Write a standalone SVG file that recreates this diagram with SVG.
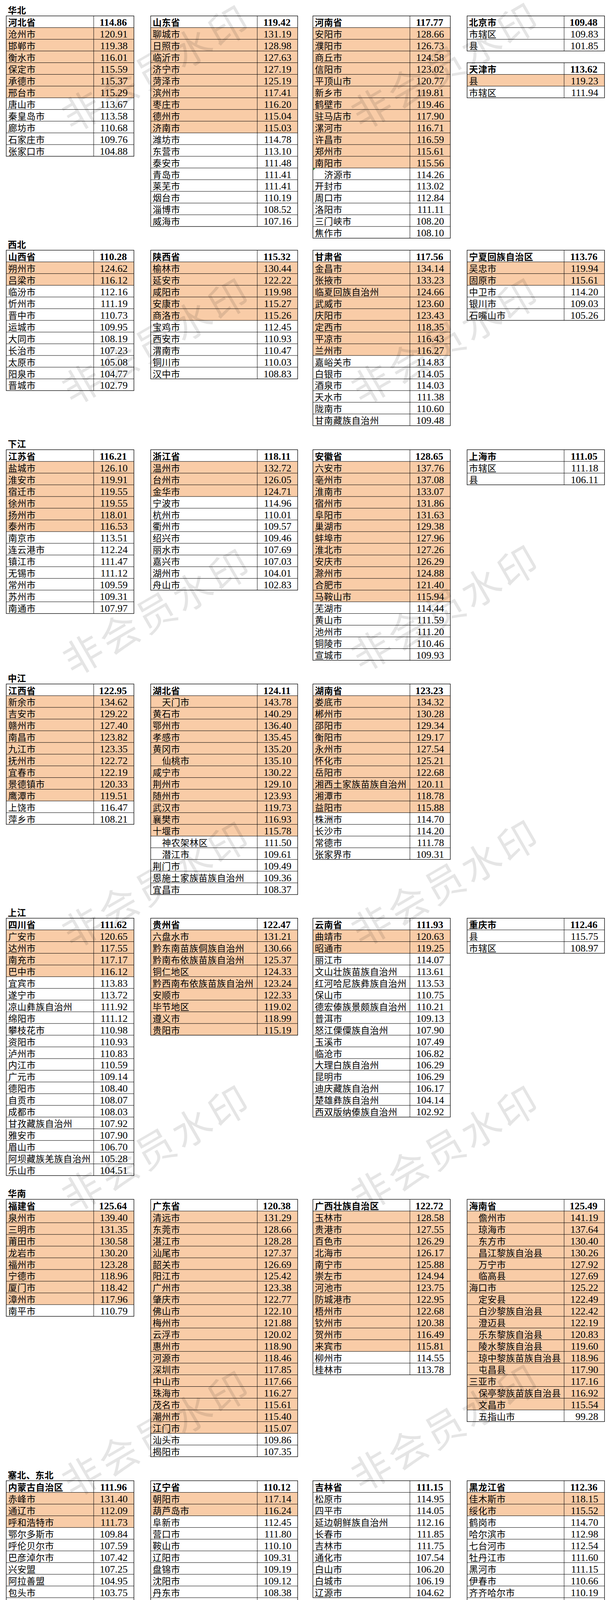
<svg xmlns="http://www.w3.org/2000/svg" width="1560" height="4886" viewBox="0 0 1560 4886">
<style>
.bg{fill:#fff}
.o{fill:#F9CCA7}
.g{fill:none;stroke:#000;stroke-width:1}
.b{fill:none;stroke:#000;stroke-width:1.3}
.nm{font-family:"Noto Sans CJK SC","Noto Sans CJK JP",sans-serif;font-size:23px;letter-spacing:.5px;fill:#000}
.vl{font-family:"Liberation Serif",serif;font-size:26px;fill:#000;text-anchor:end}
.h{font-weight:700}
.sec{font-family:"Noto Sans CJK SC","Noto Sans CJK JP",sans-serif;font-size:23px;letter-spacing:.5px;font-weight:700;fill:#000}
.wm{font-family:"Noto Sans CJK SC","Noto Sans CJK JP",sans-serif;font-size:100px;fill:#000;fill-opacity:.1;text-anchor:middle;letter-spacing:8px}
.cr{font-family:"Noto Sans CJK SC","Noto Sans CJK JP",sans-serif;font-size:46px;font-weight:700;fill:#cfcfcf;stroke:#b8b8b8;stroke-width:.6;text-anchor:end}
</style>
<rect class="bg" width="1560" height="4886"/>

<g id="sections">
<text class="sec" x="20" y="34.7">华北</text>
<text class="sec" x="20" y="634.5">西北</text>
<text class="sec" x="20" y="1145.3">下江</text>
<text class="sec" x="20" y="1745">中江</text>
<text class="sec" x="20" y="2344.6">上江</text>
<text class="sec" x="20" y="3064.3">华南</text>
<text class="sec" x="20" y="3784.6">塞北、东北</text>
<text class="sec" x="20" y="4294.6">西部</text>
</g>

<g id="tables">

<g id="hebei" transform="translate(16,40.7)">
<rect class="o" y="29.95" width="327" height="179.7"/>
<path class="g" d="M224 0V359.4M0 29.95h327m-327 29.95h327m-327 29.95h327m-327 29.95h327m-327 29.95h327m-327 29.95h327m-327 29.95h327m-327 29.95h327m-327 29.95h327m-327 29.95h327m-327 29.95h327"/>
<rect class="b" width="327" height="359.4"/>
<g class="nm" transform="translate(5,0)">
<text class="h" y="25.5">河北省</text><text y="55.45">沧州市</text><text y="85.4">邯郸市</text><text y="115.35">衡水市</text><text y="145.3">保定市</text><text y="175.25">承德市</text><text y="205.2">邢台市</text><text y="235.15">唐山市</text><text y="265.1">秦皇岛市</text><text y="295.05">廊坊市</text><text y="325">石家庄市</text><text y="354.95">张家口市</text>
</g>
<g class="vl" transform="translate(311,0)">
<text class="h" x="-2" y="25.5">114.86</text><text y="55.45">120.91</text><text y="85.4">119.38</text><text y="115.35">116.01</text><text y="145.3">115.59</text><text y="175.25">115.37</text><text y="205.2">115.29</text><text y="235.15">113.67</text><text y="265.1">113.58</text><text y="295.05">110.68</text><text y="325">109.76</text><text y="354.95">104.88</text>
</g>
</g>

<g id="shandong" transform="translate(386,40.7)">
<rect class="o" y="29.95" width="376.5" height="269.55"/>
<path class="g" d="M273 0V539.1M0 29.95h376.5m-376.5 29.95h376.5m-376.5 29.95h376.5m-376.5 29.95h376.5m-376.5 29.95h376.5m-376.5 29.95h376.5m-376.5 29.95h376.5m-376.5 29.95h376.5m-376.5 29.95h376.5m-376.5 29.95h376.5m-376.5 29.95h376.5m-376.5 29.95h376.5m-376.5 29.95h376.5m-376.5 29.95h376.5m-376.5 29.95h376.5m-376.5 29.95h376.5m-376.5 29.95h376.5"/>
<rect class="b" width="376.5" height="539.1"/>
<g class="nm" transform="translate(5,0)">
<text class="h" y="25.5">山东省</text><text y="55.45">聊城市</text><text y="85.4">日照市</text><text y="115.35">临沂市</text><text y="145.3">济宁市</text><text y="175.25">菏泽市</text><text y="205.2">滨州市</text><text y="235.15">枣庄市</text><text y="265.1">德州市</text><text y="295.05">济南市</text><text y="325">潍坊市</text><text y="354.95">东营市</text><text y="384.9">泰安市</text><text y="414.85">青岛市</text><text y="444.8">莱芜市</text><text y="474.75">烟台市</text><text y="504.7">淄博市</text><text y="534.65">威海市</text>
</g>
<g class="vl" transform="translate(360.5,0)">
<text class="h" x="-2" y="25.5">119.42</text><text y="55.45">131.19</text><text y="85.4">128.98</text><text y="115.35">127.63</text><text y="145.3">127.19</text><text y="175.25">125.19</text><text y="205.2">117.41</text><text y="235.15">116.20</text><text y="265.1">115.04</text><text y="295.05">115.03</text><text y="325">114.78</text><text y="354.95">113.10</text><text y="384.9">111.48</text><text y="414.85">111.41</text><text y="444.8">111.41</text><text y="474.75">110.19</text><text y="504.7">108.52</text><text y="534.65">107.16</text>
</g>
</g>

<g id="henan" transform="translate(801.5,40.7)">
<rect class="o" y="29.95" width="352" height="359.4"/>
<path class="g" d="M248.5 0V569.05M0 29.95h352m-352 29.95h352m-352 29.95h352m-352 29.95h352m-352 29.95h352m-352 29.95h352m-352 29.95h352m-352 29.95h352m-352 29.95h352m-352 29.95h352m-352 29.95h352m-352 29.95h352m-352 29.95h352m-352 29.95h352m-352 29.95h352m-352 29.95h352m-352 29.95h352m-352 29.95h352"/>
<rect class="b" width="352" height="569.05"/>
<polygon points="1,390.4 6,390.4 1,395.4" fill="#1a8f1a"/>
<g class="nm" transform="translate(5,0)">
<text class="h" y="25.5">河南省</text><text y="55.45">安阳市</text><text y="85.4">濮阳市</text><text y="115.35">商丘市</text><text y="145.3">信阳市</text><text y="175.25">平顶山市</text><text y="205.2">新乡市</text><text y="235.15">鹤壁市</text><text y="265.1">驻马店市</text><text y="295.05">漯河市</text><text y="325">许昌市</text><text y="354.95">郑州市</text><text y="384.9">南阳市</text><text x="24" y="414.85">济源市</text><text y="444.8">开封市</text><text y="474.75">周口市</text><text y="504.7">洛阳市</text><text y="534.65">三门峡市</text><text y="564.6">焦作市</text>
</g>
<g class="vl" transform="translate(336,0)">
<text class="h" x="-2" y="25.5">117.77</text><text y="55.45">128.66</text><text y="85.4">126.73</text><text y="115.35">124.58</text><text y="145.3">123.02</text><text y="175.25">120.77</text><text y="205.2">119.81</text><text y="235.15">119.46</text><text y="265.1">117.90</text><text y="295.05">116.71</text><text y="325">116.59</text><text y="354.95">115.61</text><text y="384.9">115.56</text><text y="414.85">114.26</text><text y="444.8">113.02</text><text y="474.75">112.84</text><text y="504.7">111.11</text><text y="534.65">108.20</text><text y="564.6">108.10</text>
</g>
</g>

<g id="beijing" transform="translate(1196.5,40.7)">
<path class="g" d="M248.5 0V89.85M0 29.95h352m-352 29.95h352"/>
<rect class="b" width="352" height="89.85"/>
<g class="nm" transform="translate(5,0)">
<text class="h" y="25.5">北京市</text><text y="55.45">市辖区</text><text y="85.4">县</text>
</g>
<g class="vl" transform="translate(336,0)">
<text class="h" x="-2" y="25.5">109.48</text><text y="55.45">109.83</text><text y="85.4">101.85</text>
</g>
</g>

<g id="tianjin" transform="translate(1196.5,160.6)">
<rect class="o" y="29.95" width="352" height="29.95"/>
<path class="g" d="M248.5 0V89.85M0 29.95h352m-352 29.95h352"/>
<rect class="b" width="352" height="89.85"/>
<g class="nm" transform="translate(5,0)">
<text class="h" y="25.5">天津市</text><text y="55.45">县</text><text y="85.4">市辖区</text>
</g>
<g class="vl" transform="translate(336,0)">
<text class="h" x="-2" y="25.5">113.62</text><text y="55.45">119.23</text><text y="85.4">111.94</text>
</g>
</g>

<g id="shanxi" transform="translate(16,640.5)">
<rect class="o" y="29.95" width="327" height="59.9"/>
<path class="g" d="M224 0V359.4M0 29.95h327m-327 29.95h327m-327 29.95h327m-327 29.95h327m-327 29.95h327m-327 29.95h327m-327 29.95h327m-327 29.95h327m-327 29.95h327m-327 29.95h327m-327 29.95h327"/>
<rect class="b" width="327" height="359.4"/>
<g class="nm" transform="translate(5,0)">
<text class="h" y="25.5">山西省</text><text y="55.45">朔州市</text><text y="85.4">吕梁市</text><text y="115.35">临汾市</text><text y="145.3">忻州市</text><text y="175.25">晋中市</text><text y="205.2">运城市</text><text y="235.15">大同市</text><text y="265.1">长治市</text><text y="295.05">太原市</text><text y="325">阳泉市</text><text y="354.95">晋城市</text>
</g>
<g class="vl" transform="translate(311,0)">
<text class="h" x="-2" y="25.5">110.28</text><text y="55.45">124.62</text><text y="85.4">116.12</text><text y="115.35">112.16</text><text y="145.3">111.19</text><text y="175.25">110.73</text><text y="205.2">109.95</text><text y="235.15">108.19</text><text y="265.1">107.23</text><text y="295.05">105.08</text><text y="325">104.77</text><text y="354.95">102.79</text>
</g>
</g>

<g id="shaanxi" transform="translate(386,640.5)">
<rect class="o" y="29.95" width="376.5" height="149.75"/>
<path class="g" d="M273 0V329.45M0 29.95h376.5m-376.5 29.95h376.5m-376.5 29.95h376.5m-376.5 29.95h376.5m-376.5 29.95h376.5m-376.5 29.95h376.5m-376.5 29.95h376.5m-376.5 29.95h376.5m-376.5 29.95h376.5m-376.5 29.95h376.5"/>
<rect class="b" width="376.5" height="329.45"/>
<g class="nm" transform="translate(5,0)">
<text class="h" y="25.5">陕西省</text><text y="55.45">榆林市</text><text y="85.4">延安市</text><text y="115.35">咸阳市</text><text y="145.3">安康市</text><text y="175.25">商洛市</text><text y="205.2">宝鸡市</text><text y="235.15">西安市</text><text y="265.1">渭南市</text><text y="295.05">铜川市</text><text y="325">汉中市</text>
</g>
<g class="vl" transform="translate(360.5,0)">
<text class="h" x="-2" y="25.5">115.32</text><text y="55.45">130.44</text><text y="85.4">122.22</text><text y="115.35">119.98</text><text y="145.3">115.27</text><text y="175.25">115.26</text><text y="205.2">112.45</text><text y="235.15">110.93</text><text y="265.1">110.47</text><text y="295.05">110.03</text><text y="325">108.83</text>
</g>
</g>

<g id="gansu" transform="translate(801.5,640.5)">
<rect class="o" y="29.95" width="352" height="239.6"/>
<path class="g" d="M248.5 0V449.25M0 29.95h352m-352 29.95h352m-352 29.95h352m-352 29.95h352m-352 29.95h352m-352 29.95h352m-352 29.95h352m-352 29.95h352m-352 29.95h352m-352 29.95h352m-352 29.95h352m-352 29.95h352m-352 29.95h352m-352 29.95h352"/>
<rect class="b" width="352" height="449.25"/>
<g class="nm" transform="translate(5,0)">
<text class="h" y="25.5">甘肃省</text><text y="55.45">金昌市</text><text y="85.4">张掖市</text><text y="115.35">临夏回族自治州</text><text y="145.3">武威市</text><text y="175.25">庆阳市</text><text y="205.2">定西市</text><text y="235.15">平凉市</text><text y="265.1">兰州市</text><text y="295.05">嘉峪关市</text><text y="325">白银市</text><text y="354.95">酒泉市</text><text y="384.9">天水市</text><text y="414.85">陇南市</text><text y="444.8">甘南藏族自治州</text>
</g>
<g class="vl" transform="translate(336,0)">
<text class="h" x="-2" y="25.5">117.56</text><text y="55.45">134.14</text><text y="85.4">133.23</text><text y="115.35">124.66</text><text y="145.3">123.60</text><text y="175.25">123.43</text><text y="205.2">118.35</text><text y="235.15">116.43</text><text y="265.1">116.27</text><text y="295.05">114.83</text><text y="325">114.05</text><text y="354.95">114.03</text><text y="384.9">111.38</text><text y="414.85">110.60</text><text y="444.8">109.48</text>
</g>
</g>

<g id="ningxia" transform="translate(1196.5,640.5)">
<rect class="o" y="29.95" width="352" height="59.9"/>
<path class="g" d="M248.5 0V179.7M0 29.95h352m-352 29.95h352m-352 29.95h352m-352 29.95h352m-352 29.95h352"/>
<rect class="b" width="352" height="179.7"/>
<g class="nm" transform="translate(5,0)">
<text class="h" y="25.5">宁夏回族自治区</text><text y="55.45">吴忠市</text><text y="85.4">固原市</text><text y="115.35">中卫市</text><text y="145.3">银川市</text><text y="175.25">石嘴山市</text>
</g>
<g class="vl" transform="translate(336,0)">
<text class="h" x="-2" y="25.5">113.76</text><text y="55.45">119.94</text><text y="85.4">115.61</text><text y="115.35">114.20</text><text y="145.3">109.03</text><text y="175.25">105.26</text>
</g>
</g>

<g id="jiangsu" transform="translate(16,1151.3)">
<rect class="o" y="29.95" width="327" height="179.7"/>
<path class="g" d="M224 0V419.3M0 29.95h327m-327 29.95h327m-327 29.95h327m-327 29.95h327m-327 29.95h327m-327 29.95h327m-327 29.95h327m-327 29.95h327m-327 29.95h327m-327 29.95h327m-327 29.95h327m-327 29.95h327m-327 29.95h327"/>
<rect class="b" width="327" height="419.3"/>
<g class="nm" transform="translate(5,0)">
<text class="h" y="25.5">江苏省</text><text y="55.45">盐城市</text><text y="85.4">淮安市</text><text y="115.35">宿迁市</text><text y="145.3">徐州市</text><text y="175.25">扬州市</text><text y="205.2">泰州市</text><text y="235.15">南京市</text><text y="265.1">连云港市</text><text y="295.05">镇江市</text><text y="325">无锡市</text><text y="354.95">常州市</text><text y="384.9">苏州市</text><text y="414.85">南通市</text>
</g>
<g class="vl" transform="translate(311,0)">
<text class="h" x="-2" y="25.5">116.21</text><text y="55.45">126.10</text><text y="85.4">119.91</text><text y="115.35">119.55</text><text y="145.3">119.55</text><text y="175.25">118.01</text><text y="205.2">116.53</text><text y="235.15">113.51</text><text y="265.1">112.24</text><text y="295.05">111.47</text><text y="325">111.12</text><text y="354.95">109.59</text><text y="384.9">109.31</text><text y="414.85">107.97</text>
</g>
</g>

<g id="zhejiang" transform="translate(386,1151.3)">
<rect class="o" y="29.95" width="376.5" height="89.85"/>
<path class="g" d="M273 0V359.4M0 29.95h376.5m-376.5 29.95h376.5m-376.5 29.95h376.5m-376.5 29.95h376.5m-376.5 29.95h376.5m-376.5 29.95h376.5m-376.5 29.95h376.5m-376.5 29.95h376.5m-376.5 29.95h376.5m-376.5 29.95h376.5m-376.5 29.95h376.5"/>
<rect class="b" width="376.5" height="359.4"/>
<g class="nm" transform="translate(5,0)">
<text class="h" y="25.5">浙江省</text><text y="55.45">温州市</text><text y="85.4">台州市</text><text y="115.35">金华市</text><text y="145.3">宁波市</text><text y="175.25">杭州市</text><text y="205.2">衢州市</text><text y="235.15">绍兴市</text><text y="265.1">丽水市</text><text y="295.05">嘉兴市</text><text y="325">湖州市</text><text y="354.95">舟山市</text>
</g>
<g class="vl" transform="translate(360.5,0)">
<text class="h" x="-2" y="25.5">118.11</text><text y="55.45">132.72</text><text y="85.4">126.05</text><text y="115.35">124.71</text><text y="145.3">114.96</text><text y="175.25">110.01</text><text y="205.2">109.57</text><text y="235.15">109.46</text><text y="265.1">107.69</text><text y="295.05">107.03</text><text y="325">104.01</text><text y="354.95">102.83</text>
</g>
</g>

<g id="anhui" transform="translate(801.5,1151.3)">
<rect class="o" y="29.95" width="352" height="359.4"/>
<path class="g" d="M248.5 0V539.1M0 29.95h352m-352 29.95h352m-352 29.95h352m-352 29.95h352m-352 29.95h352m-352 29.95h352m-352 29.95h352m-352 29.95h352m-352 29.95h352m-352 29.95h352m-352 29.95h352m-352 29.95h352m-352 29.95h352m-352 29.95h352m-352 29.95h352m-352 29.95h352m-352 29.95h352"/>
<rect class="b" width="352" height="539.1"/>
<g class="nm" transform="translate(5,0)">
<text class="h" y="25.5">安徽省</text><text y="55.45">六安市</text><text y="85.4">亳州市</text><text y="115.35">淮南市</text><text y="145.3">宿州市</text><text y="175.25">阜阳市</text><text y="205.2">巢湖市</text><text y="235.15">蚌埠市</text><text y="265.1">淮北市</text><text y="295.05">安庆市</text><text y="325">滁州市</text><text y="354.95">合肥市</text><text y="384.9">马鞍山市</text><text y="414.85">芜湖市</text><text y="444.8">黄山市</text><text y="474.75">池州市</text><text y="504.7">铜陵市</text><text y="534.65">宣城市</text>
</g>
<g class="vl" transform="translate(336,0)">
<text class="h" x="-2" y="25.5">128.65</text><text y="55.45">137.76</text><text y="85.4">137.08</text><text y="115.35">133.07</text><text y="145.3">131.86</text><text y="175.25">131.63</text><text y="205.2">129.38</text><text y="235.15">127.96</text><text y="265.1">127.26</text><text y="295.05">126.29</text><text y="325">124.88</text><text y="354.95">121.40</text><text y="384.9">115.94</text><text y="414.85">114.44</text><text y="444.8">111.59</text><text y="474.75">111.20</text><text y="504.7">110.46</text><text y="534.65">109.93</text>
</g>
</g>

<g id="shanghai" transform="translate(1196.5,1151.3)">
<path class="g" d="M248.5 0V89.85M0 29.95h352m-352 29.95h352"/>
<rect class="b" width="352" height="89.85"/>
<g class="nm" transform="translate(5,0)">
<text class="h" y="25.5">上海市</text><text y="55.45">市辖区</text><text y="85.4">县</text>
</g>
<g class="vl" transform="translate(336,0)">
<text class="h" x="-2" y="25.5">111.05</text><text y="55.45">111.18</text><text y="85.4">106.11</text>
</g>
</g>

<g id="jiangxi" transform="translate(16,1751)">
<rect class="o" y="29.95" width="327" height="269.55"/>
<path class="g" d="M224 0V359.4M0 29.95h327m-327 29.95h327m-327 29.95h327m-327 29.95h327m-327 29.95h327m-327 29.95h327m-327 29.95h327m-327 29.95h327m-327 29.95h327m-327 29.95h327m-327 29.95h327"/>
<rect class="b" width="327" height="359.4"/>
<g class="nm" transform="translate(5,0)">
<text class="h" y="25.5">江西省</text><text y="55.45">新余市</text><text y="85.4">吉安市</text><text y="115.35">赣州市</text><text y="145.3">南昌市</text><text y="175.25">九江市</text><text y="205.2">抚州市</text><text y="235.15">宜春市</text><text y="265.1">景德镇市</text><text y="295.05">鹰潭市</text><text y="325">上饶市</text><text y="354.95">萍乡市</text>
</g>
<g class="vl" transform="translate(311,0)">
<text class="h" x="-2" y="25.5">122.95</text><text y="55.45">134.62</text><text y="85.4">129.22</text><text y="115.35">127.40</text><text y="145.3">123.82</text><text y="175.25">123.35</text><text y="205.2">122.72</text><text y="235.15">122.19</text><text y="265.1">120.33</text><text y="295.05">119.51</text><text y="325">116.47</text><text y="354.95">108.21</text>
</g>
</g>

<g id="hubei" transform="translate(386,1751)">
<rect class="o" y="29.95" width="376.5" height="359.4"/>
<path class="g" d="M273 0V539.1M0 29.95h376.5m-376.5 29.95h376.5m-376.5 29.95h376.5m-376.5 29.95h376.5m-376.5 29.95h376.5m-376.5 29.95h376.5m-376.5 29.95h376.5m-376.5 29.95h376.5m-376.5 29.95h376.5m-376.5 29.95h376.5m-376.5 29.95h376.5m-376.5 29.95h376.5m-376.5 29.95h376.5m-376.5 29.95h376.5m-376.5 29.95h376.5m-376.5 29.95h376.5m-376.5 29.95h376.5"/>
<rect class="b" width="376.5" height="539.1"/>
<g class="nm" transform="translate(5,0)">
<text class="h" y="25.5">湖北省</text><text x="24" y="55.45">天门市</text><text y="85.4">黄石市</text><text y="115.35">鄂州市</text><text y="145.3">孝感市</text><text y="175.25">黄冈市</text><text x="24" y="205.2">仙桃市</text><text y="235.15">咸宁市</text><text y="265.1">荆州市</text><text y="295.05">随州市</text><text y="325">武汉市</text><text y="354.95">襄樊市</text><text y="384.9">十堰市</text><text x="24" y="414.85">神农架林区</text><text x="24" y="444.8">潜江市</text><text y="474.75">荆门市</text><text y="504.7">恩施土家族苗族自治州</text><text y="534.65">宜昌市</text>
</g>
<g class="vl" transform="translate(360.5,0)">
<text class="h" x="-2" y="25.5">124.11</text><text y="55.45">143.78</text><text y="85.4">140.29</text><text y="115.35">136.40</text><text y="145.3">135.45</text><text y="175.25">135.20</text><text y="205.2">135.10</text><text y="235.15">130.22</text><text y="265.1">129.10</text><text y="295.05">123.93</text><text y="325">119.73</text><text y="354.95">116.93</text><text y="384.9">115.78</text><text y="414.85">111.50</text><text y="444.8">109.61</text><text y="474.75">109.49</text><text y="504.7">109.36</text><text y="534.65">108.37</text>
</g>
</g>

<g id="hunan" transform="translate(801.5,1751)">
<rect class="o" y="29.95" width="352" height="299.5"/>
<path class="g" d="M248.5 0V449.25M0 29.95h352m-352 29.95h352m-352 29.95h352m-352 29.95h352m-352 29.95h352m-352 29.95h352m-352 29.95h352m-352 29.95h352m-352 29.95h352m-352 29.95h352m-352 29.95h352m-352 29.95h352m-352 29.95h352m-352 29.95h352"/>
<rect class="b" width="352" height="449.25"/>
<g class="nm" transform="translate(5,0)">
<text class="h" y="25.5">湖南省</text><text y="55.45">娄底市</text><text y="85.4">郴州市</text><text y="115.35">邵阳市</text><text y="145.3">衡阳市</text><text y="175.25">永州市</text><text y="205.2">怀化市</text><text y="235.15">岳阳市</text><text y="265.1">湘西土家族苗族自治州</text><text y="295.05">湘潭市</text><text y="325">益阳市</text><text y="354.95">株洲市</text><text y="384.9">长沙市</text><text y="414.85">常德市</text><text y="444.8">张家界市</text>
</g>
<g class="vl" transform="translate(336,0)">
<text class="h" x="-2" y="25.5">123.23</text><text y="55.45">134.32</text><text y="85.4">130.28</text><text y="115.35">129.34</text><text y="145.3">129.17</text><text y="175.25">127.54</text><text y="205.2">125.21</text><text y="235.15">122.68</text><text y="265.1">120.11</text><text y="295.05">118.78</text><text y="325">115.88</text><text y="354.95">114.70</text><text y="384.9">114.20</text><text y="414.85">111.78</text><text y="444.8">109.31</text>
</g>
</g>

<g id="sichuan" transform="translate(16,2350.6)">
<rect class="o" y="29.95" width="327" height="119.8"/>
<path class="g" d="M224 0V658.9M0 29.95h327m-327 29.95h327m-327 29.95h327m-327 29.95h327m-327 29.95h327m-327 29.95h327m-327 29.95h327m-327 29.95h327m-327 29.95h327m-327 29.95h327m-327 29.95h327m-327 29.95h327m-327 29.95h327m-327 29.95h327m-327 29.95h327m-327 29.95h327m-327 29.95h327m-327 29.95h327m-327 29.95h327m-327 29.95h327m-327 29.95h327"/>
<rect class="b" width="327" height="658.9"/>
<g class="nm" transform="translate(5,0)">
<text class="h" y="25.5">四川省</text><text y="55.45">广安市</text><text y="85.4">达州市</text><text y="115.35">南充市</text><text y="145.3">巴中市</text><text y="175.25">宜宾市</text><text y="205.2">遂宁市</text><text y="235.15">凉山彝族自治州</text><text y="265.1">绵阳市</text><text y="295.05">攀枝花市</text><text y="325">资阳市</text><text y="354.95">泸州市</text><text y="384.9">内江市</text><text y="414.85">广元市</text><text y="444.8">德阳市</text><text y="474.75">自贡市</text><text y="504.7">成都市</text><text y="534.65">甘孜藏族自治州</text><text y="564.6">雅安市</text><text y="594.55">眉山市</text><text y="624.5">阿坝藏族羌族自治州</text><text y="654.45">乐山市</text>
</g>
<g class="vl" transform="translate(311,0)">
<text class="h" x="-2" y="25.5">111.62</text><text y="55.45">120.65</text><text y="85.4">117.55</text><text y="115.35">117.17</text><text y="145.3">116.12</text><text y="175.25">113.83</text><text y="205.2">113.72</text><text y="235.15">111.92</text><text y="265.1">111.12</text><text y="295.05">110.98</text><text y="325">110.93</text><text y="354.95">110.83</text><text y="384.9">110.59</text><text y="414.85">109.14</text><text y="444.8">108.40</text><text y="474.75">108.07</text><text y="504.7">108.03</text><text y="534.65">107.92</text><text y="564.6">107.90</text><text y="594.55">106.70</text><text y="624.5">105.28</text><text y="654.45">104.51</text>
</g>
</g>

<g id="guizhou" transform="translate(386,2350.6)">
<rect class="o" y="29.95" width="376.5" height="269.55"/>
<path class="g" d="M273 0V299.5M0 29.95h376.5m-376.5 29.95h376.5m-376.5 29.95h376.5m-376.5 29.95h376.5m-376.5 29.95h376.5m-376.5 29.95h376.5m-376.5 29.95h376.5m-376.5 29.95h376.5m-376.5 29.95h376.5"/>
<rect class="b" width="376.5" height="299.5"/>
<g class="nm" transform="translate(5,0)">
<text class="h" y="25.5">贵州省</text><text y="55.45">六盘水市</text><text y="85.4">黔东南苗族侗族自治州</text><text y="115.35">黔南布依族苗族自治州</text><text y="145.3">铜仁地区</text><text y="175.25">黔西南布依族苗族自治州</text><text y="205.2">安顺市</text><text y="235.15">毕节地区</text><text y="265.1">遵义市</text><text y="295.05">贵阳市</text>
</g>
<g class="vl" transform="translate(360.5,0)">
<text class="h" x="-2" y="25.5">122.47</text><text y="55.45">131.21</text><text y="85.4">130.66</text><text y="115.35">125.37</text><text y="145.3">124.33</text><text y="175.25">123.24</text><text y="205.2">122.33</text><text y="235.15">119.02</text><text y="265.1">118.99</text><text y="295.05">115.19</text>
</g>
</g>

<g id="yunnan" transform="translate(801.5,2350.6)">
<rect class="o" y="29.95" width="352" height="59.9"/>
<path class="g" d="M248.5 0V509.15M0 29.95h352m-352 29.95h352m-352 29.95h352m-352 29.95h352m-352 29.95h352m-352 29.95h352m-352 29.95h352m-352 29.95h352m-352 29.95h352m-352 29.95h352m-352 29.95h352m-352 29.95h352m-352 29.95h352m-352 29.95h352m-352 29.95h352m-352 29.95h352"/>
<rect class="b" width="352" height="509.15"/>
<g class="nm" transform="translate(5,0)">
<text class="h" y="25.5">云南省</text><text y="55.45">曲靖市</text><text y="85.4">昭通市</text><text y="115.35">丽江市</text><text y="145.3">文山壮族苗族自治州</text><text y="175.25">红河哈尼族彝族自治州</text><text y="205.2">保山市</text><text y="235.15">德宏傣族景颇族自治州</text><text y="265.1">普洱市</text><text y="295.05">怒江傈僳族自治州</text><text y="325">玉溪市</text><text y="354.95">临沧市</text><text y="384.9">大理白族自治州</text><text y="414.85">昆明市</text><text y="444.8">迪庆藏族自治州</text><text y="474.75">楚雄彝族自治州</text><text y="504.7">西双版纳傣族自治州</text>
</g>
<g class="vl" transform="translate(336,0)">
<text class="h" x="-2" y="25.5">111.93</text><text y="55.45">120.63</text><text y="85.4">119.25</text><text y="115.35">114.07</text><text y="145.3">113.61</text><text y="175.25">113.53</text><text y="205.2">110.75</text><text y="235.15">110.21</text><text y="265.1">109.13</text><text y="295.05">107.90</text><text y="325">107.49</text><text y="354.95">106.82</text><text y="384.9">106.29</text><text y="414.85">106.29</text><text y="444.8">106.17</text><text y="474.75">104.14</text><text y="504.7">102.92</text>
</g>
</g>

<g id="chongqing" transform="translate(1196.5,2350.6)">
<path class="g" d="M248.5 0V89.85M0 29.95h352m-352 29.95h352"/>
<rect class="b" width="352" height="89.85"/>
<g class="nm" transform="translate(5,0)">
<text class="h" y="25.5">重庆市</text><text y="55.45">县</text><text y="85.4">市辖区</text>
</g>
<g class="vl" transform="translate(336,0)">
<text class="h" x="-2" y="25.5">112.46</text><text y="55.45">115.75</text><text y="85.4">108.97</text>
</g>
</g>

<g id="fujian" transform="translate(16,3070.3)">
<rect class="o" y="29.95" width="327" height="239.6"/>
<path class="g" d="M224 0V299.5M0 29.95h327m-327 29.95h327m-327 29.95h327m-327 29.95h327m-327 29.95h327m-327 29.95h327m-327 29.95h327m-327 29.95h327m-327 29.95h327"/>
<rect class="b" width="327" height="299.5"/>
<g class="nm" transform="translate(5,0)">
<text class="h" y="25.5">福建省</text><text y="55.45">泉州市</text><text y="85.4">三明市</text><text y="115.35">莆田市</text><text y="145.3">龙岩市</text><text y="175.25">福州市</text><text y="205.2">宁德市</text><text y="235.15">厦门市</text><text y="265.1">漳州市</text><text y="295.05">南平市</text>
</g>
<g class="vl" transform="translate(311,0)">
<text class="h" x="-2" y="25.5">125.64</text><text y="55.45">139.40</text><text y="85.4">131.35</text><text y="115.35">130.58</text><text y="145.3">130.20</text><text y="175.25">123.28</text><text y="205.2">118.96</text><text y="235.15">118.42</text><text y="265.1">117.96</text><text y="295.05">110.79</text>
</g>
</g>

<g id="guangdong" transform="translate(386,3070.3)">
<rect class="o" y="29.95" width="376.5" height="569.05"/>
<path class="g" d="M273 0V658.9M0 29.95h376.5m-376.5 29.95h376.5m-376.5 29.95h376.5m-376.5 29.95h376.5m-376.5 29.95h376.5m-376.5 29.95h376.5m-376.5 29.95h376.5m-376.5 29.95h376.5m-376.5 29.95h376.5m-376.5 29.95h376.5m-376.5 29.95h376.5m-376.5 29.95h376.5m-376.5 29.95h376.5m-376.5 29.95h376.5m-376.5 29.95h376.5m-376.5 29.95h376.5m-376.5 29.95h376.5m-376.5 29.95h376.5m-376.5 29.95h376.5m-376.5 29.95h376.5m-376.5 29.95h376.5"/>
<rect class="b" width="376.5" height="658.9"/>
<g class="nm" transform="translate(5,0)">
<text class="h" y="25.5">广东省</text><text y="55.45">清远市</text><text y="85.4">东莞市</text><text y="115.35">湛江市</text><text y="145.3">汕尾市</text><text y="175.25">韶关市</text><text y="205.2">阳江市</text><text y="235.15">广州市</text><text y="265.1">肇庆市</text><text y="295.05">佛山市</text><text y="325">梅州市</text><text y="354.95">云浮市</text><text y="384.9">惠州市</text><text y="414.85">河源市</text><text y="444.8">深圳市</text><text y="474.75">中山市</text><text y="504.7">珠海市</text><text y="534.65">茂名市</text><text y="564.6">潮州市</text><text y="594.55">江门市</text><text y="624.5">汕头市</text><text y="654.45">揭阳市</text>
</g>
<g class="vl" transform="translate(360.5,0)">
<text class="h" x="-2" y="25.5">120.38</text><text y="55.45">131.29</text><text y="85.4">128.66</text><text y="115.35">128.28</text><text y="145.3">127.37</text><text y="175.25">126.69</text><text y="205.2">125.42</text><text y="235.15">123.38</text><text y="265.1">122.77</text><text y="295.05">122.10</text><text y="325">121.88</text><text y="354.95">120.02</text><text y="384.9">118.90</text><text y="414.85">118.46</text><text y="444.8">117.85</text><text y="474.75">117.66</text><text y="504.7">116.27</text><text y="534.65">115.61</text><text y="564.6">115.40</text><text y="594.55">115.07</text><text y="624.5">109.86</text><text y="654.45">107.35</text>
</g>
</g>

<g id="guangxi" transform="translate(801.5,3070.3)">
<rect class="o" y="29.95" width="352" height="359.4"/>
<path class="g" d="M248.5 0V449.25M0 29.95h352m-352 29.95h352m-352 29.95h352m-352 29.95h352m-352 29.95h352m-352 29.95h352m-352 29.95h352m-352 29.95h352m-352 29.95h352m-352 29.95h352m-352 29.95h352m-352 29.95h352m-352 29.95h352m-352 29.95h352"/>
<rect class="b" width="352" height="449.25"/>
<g class="nm" transform="translate(5,0)">
<text class="h" y="25.5">广西壮族自治区</text><text y="55.45">玉林市</text><text y="85.4">贵港市</text><text y="115.35">百色市</text><text y="145.3">北海市</text><text y="175.25">南宁市</text><text y="205.2">崇左市</text><text y="235.15">河池市</text><text y="265.1">防城港市</text><text y="295.05">梧州市</text><text y="325">钦州市</text><text y="354.95">贺州市</text><text y="384.9">来宾市</text><text y="414.85">柳州市</text><text y="444.8">桂林市</text>
</g>
<g class="vl" transform="translate(336,0)">
<text class="h" x="-2" y="25.5">122.72</text><text y="55.45">128.58</text><text y="85.4">127.55</text><text y="115.35">126.29</text><text y="145.3">126.17</text><text y="175.25">125.88</text><text y="205.2">124.94</text><text y="235.15">123.75</text><text y="265.1">122.95</text><text y="295.05">122.68</text><text y="325">120.38</text><text y="354.95">116.49</text><text y="384.9">115.81</text><text y="414.85">114.55</text><text y="444.8">113.78</text>
</g>
</g>

<g id="hainan" transform="translate(1196.5,3070.3)">
<rect class="o" y="29.95" width="352" height="509.15"/>
<path class="g" d="M248.5 0V569.05M0 29.95h352m-352 29.95h352m-352 29.95h352m-352 29.95h352m-352 29.95h352m-352 29.95h352m-352 29.95h352m-352 29.95h352m-352 29.95h352m-352 29.95h352m-352 29.95h352m-352 29.95h352m-352 29.95h352m-352 29.95h352m-352 29.95h352m-352 29.95h352m-352 29.95h352m-352 29.95h352"/>
<rect class="b" width="352" height="569.05"/>
<g class="nm" transform="translate(5,0)">
<text class="h" y="25.5">海南省</text><text x="24" y="55.45">儋州市</text><text x="24" y="85.4">琼海市</text><text x="24" y="115.35">东方市</text><text x="24" y="145.3">昌江黎族自治县</text><text x="24" y="175.25">万宁市</text><text x="24" y="205.2">临高县</text><text y="235.15">海口市</text><text x="24" y="265.1">定安县</text><text x="24" y="295.05">白沙黎族自治县</text><text x="24" y="325">澄迈县</text><text x="24" y="354.95">乐东黎族自治县</text><text x="24" y="384.9">陵水黎族自治县</text><text x="24" y="414.85">琼中黎族苗族自治县</text><text x="24" y="444.8">屯昌县</text><text y="474.75">三亚市</text><text x="24" y="504.7">保亭黎族苗族自治县</text><text x="24" y="534.65">文昌市</text><text x="24" y="564.6">五指山市</text>
</g>
<g class="vl" transform="translate(336,0)">
<text class="h" x="-2" y="25.5">125.49</text><text y="55.45">141.19</text><text y="85.4">137.64</text><text y="115.35">130.40</text><text y="145.3">130.26</text><text y="175.25">127.92</text><text y="205.2">127.69</text><text y="235.15">125.22</text><text y="265.1">122.49</text><text y="295.05">122.42</text><text y="325">122.19</text><text y="354.95">120.83</text><text y="384.9">119.60</text><text y="414.85">118.96</text><text y="444.8">117.90</text><text y="474.75">117.16</text><text y="504.7">116.92</text><text y="534.65">115.54</text><text y="564.6">99.28</text>
</g>
</g>

<g id="neimenggu" transform="translate(16,3790.6)">
<rect class="o" y="29.95" width="327" height="89.85"/>
<path class="g" d="M224 0V389.35M0 29.95h327m-327 29.95h327m-327 29.95h327m-327 29.95h327m-327 29.95h327m-327 29.95h327m-327 29.95h327m-327 29.95h327m-327 29.95h327m-327 29.95h327m-327 29.95h327m-327 29.95h327"/>
<rect class="b" width="327" height="389.35"/>
<g class="nm" transform="translate(5,0)">
<text class="h" y="25.5">内蒙古自治区</text><text y="55.45">赤峰市</text><text y="85.4">通辽市</text><text y="115.35">呼和浩特市</text><text y="145.3">鄂尔多斯市</text><text y="175.25">呼伦贝尔市</text><text y="205.2">巴彦淖尔市</text><text y="235.15">兴安盟</text><text y="265.1">阿拉善盟</text><text y="295.05">包头市</text><text y="325">锡林郭勒盟</text><text y="354.95">乌海市</text><text y="384.9">乌兰察布市</text>
</g>
<g class="vl" transform="translate(311,0)">
<text class="h" x="-2" y="25.5">111.96</text><text y="55.45">131.40</text><text y="85.4">112.09</text><text y="115.35">111.73</text><text y="145.3">109.84</text><text y="175.25">107.59</text><text y="205.2">107.42</text><text y="235.15">107.25</text><text y="265.1">104.95</text><text y="295.05">103.75</text><text y="325">103.07</text><text y="354.95">102.41</text><text y="384.9">102.26</text>
</g>
</g>

<g id="liaoning" transform="translate(386,3790.6)">
<rect class="o" y="29.95" width="376.5" height="59.9"/>
<path class="g" d="M273 0V449.25M0 29.95h376.5m-376.5 29.95h376.5m-376.5 29.95h376.5m-376.5 29.95h376.5m-376.5 29.95h376.5m-376.5 29.95h376.5m-376.5 29.95h376.5m-376.5 29.95h376.5m-376.5 29.95h376.5m-376.5 29.95h376.5m-376.5 29.95h376.5m-376.5 29.95h376.5m-376.5 29.95h376.5m-376.5 29.95h376.5"/>
<rect class="b" width="376.5" height="449.25"/>
<g class="nm" transform="translate(5,0)">
<text class="h" y="25.5">辽宁省</text><text y="55.45">朝阳市</text><text y="85.4">葫芦岛市</text><text y="115.35">阜新市</text><text y="145.3">营口市</text><text y="175.25">鞍山市</text><text y="205.2">辽阳市</text><text y="235.15">盘锦市</text><text y="265.1">沈阳市</text><text y="295.05">丹东市</text><text y="325">大连市</text><text y="354.95">本溪市</text><text y="384.9">抚顺市</text><text y="414.85">锦州市</text><text y="444.8">铁岭市</text>
</g>
<g class="vl" transform="translate(360.5,0)">
<text class="h" x="-2" y="25.5">110.12</text><text y="55.45">117.14</text><text y="85.4">116.24</text><text y="115.35">112.45</text><text y="145.3">111.80</text><text y="175.25">110.10</text><text y="205.2">109.31</text><text y="235.15">109.19</text><text y="265.1">109.12</text><text y="295.05">108.38</text><text y="325">108.08</text><text y="354.95">108.02</text><text y="384.9">106.70</text><text y="414.85">106.47</text><text y="444.8">106.46</text>
</g>
</g>

<g id="jilin" transform="translate(801.5,3790.6)">
<path class="g" d="M248.5 0V299.5M0 29.95h352m-352 29.95h352m-352 29.95h352m-352 29.95h352m-352 29.95h352m-352 29.95h352m-352 29.95h352m-352 29.95h352m-352 29.95h352"/>
<rect class="b" width="352" height="299.5"/>
<g class="nm" transform="translate(5,0)">
<text class="h" y="25.5">吉林省</text><text y="55.45">松原市</text><text y="85.4">四平市</text><text y="115.35">延边朝鲜族自治州</text><text y="145.3">长春市</text><text y="175.25">吉林市</text><text y="205.2">通化市</text><text y="235.15">白山市</text><text y="265.1">白城市</text><text y="295.05">辽源市</text>
</g>
<g class="vl" transform="translate(336,0)">
<text class="h" x="-2" y="25.5">111.15</text><text y="55.45">114.95</text><text y="85.4">114.05</text><text y="115.35">112.16</text><text y="145.3">111.85</text><text y="175.25">111.75</text><text y="205.2">107.54</text><text y="235.15">106.20</text><text y="265.1">106.19</text><text y="295.05">104.62</text>
</g>
</g>

<g id="heilongjiang" transform="translate(1196.5,3790.6)">
<rect class="o" y="29.95" width="352" height="59.9"/>
<path class="g" d="M248.5 0V419.3M0 29.95h352m-352 29.95h352m-352 29.95h352m-352 29.95h352m-352 29.95h352m-352 29.95h352m-352 29.95h352m-352 29.95h352m-352 29.95h352m-352 29.95h352m-352 29.95h352m-352 29.95h352m-352 29.95h352"/>
<rect class="b" width="352" height="419.3"/>
<g class="nm" transform="translate(5,0)">
<text class="h" y="25.5">黑龙江省</text><text y="55.45">佳木斯市</text><text y="85.4">绥化市</text><text y="115.35">鹤岗市</text><text y="145.3">哈尔滨市</text><text y="175.25">七台河市</text><text y="205.2">牡丹江市</text><text y="235.15">黑河市</text><text y="265.1">伊春市</text><text y="295.05">齐齐哈尔市</text><text y="325">大庆市</text><text y="354.95">双鸭山市</text><text y="384.9">鸡西市</text><text y="414.85">大兴安岭地区</text>
</g>
<g class="vl" transform="translate(336,0)">
<text class="h" x="-2" y="25.5">112.36</text><text y="55.45">118.15</text><text y="85.4">115.52</text><text y="115.35">114.70</text><text y="145.3">112.98</text><text y="175.25">112.54</text><text y="205.2">111.60</text><text y="235.15">111.15</text><text y="265.1">110.66</text><text y="295.05">110.19</text><text y="325">109.56</text><text y="354.95">108.14</text><text y="384.9">107.37</text><text y="414.85">99.83</text>
</g>
</g>

<g id="xinjiang" transform="translate(16,4300.6)">
<rect class="o" y="29.95" width="327" height="29.95"/>
<path class="g" d="M224 0V569.05M0 29.95h327m-327 29.95h327m-327 29.95h327m-327 29.95h327m-327 29.95h327m-327 29.95h327m-327 29.95h327m-327 29.95h327m-327 29.95h327m-327 29.95h327m-327 29.95h327m-327 29.95h327m-327 29.95h327m-327 29.95h327m-327 29.95h327m-327 29.95h327m-327 29.95h327m-327 29.95h327"/>
<rect class="b" width="327" height="569.05"/>
<g class="nm" transform="translate(5,0)">
<text class="h" y="25.5">新疆维吾尔自治区</text><text x="24" y="55.45">五家渠市</text><text y="85.4">吐鲁番地区</text><text y="115.35">阿勒泰地区</text><text y="145.3">乌鲁木齐市</text><text y="175.25">塔城地区</text><text x="24" y="205.2">阿拉尔市</text><text y="235.15">伊犁哈萨克自治州</text><text y="265.1">哈密地区</text><text y="295.05">克孜勒苏柯尔克孜自</text><text y="325">博尔塔拉蒙古自治州</text><text y="354.95">克拉玛依市</text><text y="384.9">巴音郭楞蒙古自治州</text><text y="414.85">阿克苏地区</text><text y="444.8">昌吉回族自治州</text><text y="474.75">喀什地区</text><text y="504.7">和田地区</text><text x="24" y="534.65">石河子市</text><text x="24" y="564.6">图木舒克市</text>
</g>
<g class="vl" transform="translate(311,0)">
<text class="h" x="-2" y="25.5">106.02</text><text y="55.45">127.23</text><text y="85.4">110.28</text><text y="115.35">109.70</text><text y="145.3">108.58</text><text y="175.25">108.06</text><text y="205.2">107.86</text><text y="235.15">107.51</text><text y="265.1">107.44</text><text y="295.05">107.31</text><text y="325">107.30</text><text y="354.95">106.66</text><text y="384.9">106.63</text><text y="414.85">105.93</text><text y="444.8">105.90</text><text y="474.75">104.96</text><text y="504.7">102.40</text><text y="534.65">101.28</text><text y="564.6">100.33</text>
</g>
</g>

<g id="qinghai" transform="translate(386,4300.6)">
<rect class="o" y="29.95" width="376.5" height="59.9"/>
<path class="g" d="M273 0V269.55M0 29.95h376.5m-376.5 29.95h376.5m-376.5 29.95h376.5m-376.5 29.95h376.5m-376.5 29.95h376.5m-376.5 29.95h376.5m-376.5 29.95h376.5m-376.5 29.95h376.5"/>
<rect class="b" width="376.5" height="269.55"/>
<g class="nm" transform="translate(5,0)">
<text class="h" y="25.5">青海省</text><text y="55.45">海东地区</text><text y="85.4">玉树藏族自治州</text><text y="115.35">西宁市</text><text y="145.3">海西蒙古族藏族自治州</text><text y="175.25">海南藏族自治州</text><text y="205.2">海北藏族自治州</text><text y="235.15">黄南藏族自治州</text><text y="265.1">果洛藏族自治州</text>
</g>
<g class="vl" transform="translate(360.5,0)">
<text class="h" x="-2" y="25.5">112.32</text><text y="55.45">117.07</text><text y="85.4">115.73</text><text y="115.35">113.06</text><text y="145.3">107.86</text><text y="175.25">106.56</text><text y="205.2">106.35</text><text y="235.15">105.31</text><text y="265.1">104.56</text>
</g>
</g>

<g id="xizang" transform="translate(801.5,4300.6)">
<path class="g" d="M248.5 0V239.6M0 29.95h352m-352 29.95h352m-352 29.95h352m-352 29.95h352m-352 29.95h352m-352 29.95h352m-352 29.95h352"/>
<rect class="b" width="352" height="239.6"/>
<g class="nm" transform="translate(5,0)">
<text class="h" y="25.5">西藏自治区</text><text y="55.45">林芝地区</text><text y="85.4">那曲地区</text><text y="115.35">拉萨市</text><text y="145.3">山南地区</text><text y="175.25">日喀则地区</text><text y="205.2">昌都地区</text><text y="235.15">阿里地区</text>
</g>
<g class="vl" transform="translate(336,0)">
<text class="h" x="-2" y="25.5">106.50</text><text y="55.45">111.76</text><text y="85.4">109.14</text><text y="115.35">107.19</text><text y="145.3">107.17</text><text y="175.25">106.44</text><text y="205.2">104.68</text><text y="235.15">94.49</text>
</g>
</g>

</g>

<g id="watermark" class="wm">
<text transform="translate(402,176) rotate(-30)" dy="0.35em">非会员水印</text>
<text transform="translate(1143,170) rotate(-30)" dy="0.35em">非会员水印</text>
<text transform="translate(402,875) rotate(-30)" dy="0.35em">非会员水印</text>
<text transform="translate(1143,875) rotate(-30)" dy="0.35em">非会员水印</text>
<text transform="translate(404,1568) rotate(-30)" dy="0.35em">非会员水印</text>
<text transform="translate(1143,1558) rotate(-30)" dy="0.35em">非会员水印</text>
<text transform="translate(402,2266) rotate(-30)" dy="0.35em">非会员水印</text>
<text transform="translate(1143,2262) rotate(-30)" dy="0.35em">非会员水印</text>
<text transform="translate(402,2941) rotate(-30)" dy="0.35em">非会员水印</text>
<text transform="translate(1143,2942) rotate(-30)" dy="0.35em">非会员水印</text>
<text transform="translate(402,3672) rotate(-30)" dy="0.35em">非会员水印</text>
<text transform="translate(1143,3656) rotate(-30)" dy="0.35em">非会员水印</text>
<text transform="translate(405,4338) rotate(-30)" dy="0.35em">非会员水印</text>
<text transform="translate(1145,4352) rotate(-30)" dy="0.35em">非会员水印</text>
</g>

<text id="credit" class="cr" x="1522" y="4844">知乎 @陆土根</text>
</svg>
